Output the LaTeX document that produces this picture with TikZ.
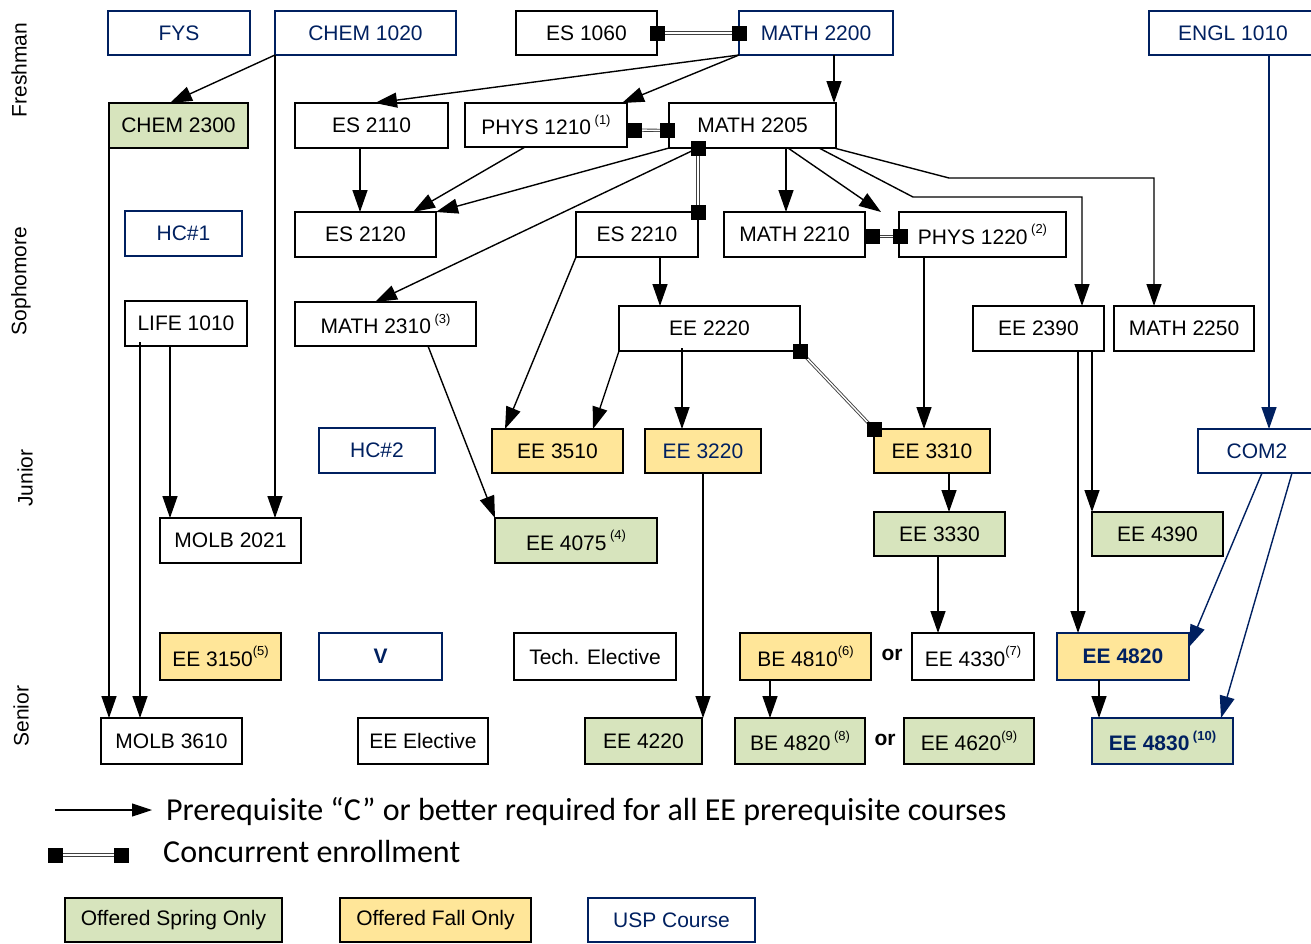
\documentclass[tikz,border=0pt]{standalone}
\usepackage{fontspec}
\setmainfont{Liberation Sans}
\newfontfamily\calib{Carlito}
\usetikzlibrary{arrows.meta}
\definecolor{navy}{RGB}{0,32,96}
\definecolor{springc}{HTML}{D7E4BD}
\definecolor{fallc}{HTML}{FFE699}
\newcommand\nt[1]{\,\raisebox{0.5em}{\fontsize{13}{13}\selectfont(#1)}}
\newcommand\ntt[1]{\raisebox{0.5em}{\fontsize{13}{13}\selectfont(#1)}}
\newcommand\bx[7][]{\node[bx,#1,anchor=north west,minimum width=#5pt,minimum height=#6pt] (#2) at (#3,#4) {#7};}
\begin{document}
\begin{tikzpicture}[x=1pt,y=-1pt,
 bx/.style={draw=black,line width=1.5pt,inner sep=0pt,outer sep=0pt,font=\fontsize{21}{25}\selectfont,text=black},
 usp/.style={draw=navy,line width=2.2pt,text=navy},
 spring/.style={fill=springc},
 fall/.style={fill=fallc},
 arr/.style={draw=black,line width=1.4pt,-{Triangle[length=22pt,width=15pt]}},
 barr/.style={arr,draw=navy},
 conc/.style={draw=black!75,line width=0.9pt,double=white,double distance=1.4pt},
 sq/.style={fill=black,minimum size=15pt,inner sep=0pt,outer sep=0pt},
 yr/.style={rotate=90,font=\fontsize{21}{25}\selectfont},
 orl/.style={font=\bfseries\fontsize{21}{25}\selectfont},
 leg/.style={font=\calib\fontsize{32}{36}\selectfont,inner sep=0pt}
]
\useasboundingbox (0,0) rectangle (1311,943);

% year labels
\node[yr] (yfr) at (19,70) {Freshman};
\node[yr] (yso) at (21,281) {Sophomore};
\node[yr] (yju) at (25,478) {Junior};
\node[yr] (yse) at (21,716) {Senior};

% row 1
\bx[usp]{fys}{108}{11}{142}{44}{FYS}
\bx[usp]{chem1020}{275}{11}{181}{44}{CHEM 1020}
\bx{es1060}{516}{11}{141}{44}{ES 1060}
\bx[usp]{math2200}{739}{11}{154}{44}{MATH 2200}
\bx[usp]{engl1010}{1149}{11}{168}{44}{ENGL 1010}
% row 2
\bx[spring]{chem2300}{109}{103}{139}{45}{CHEM 2300}
\bx{es2110}{295}{103}{153}{45}{ES 2110}
\bx{phys1210}{465}{103}{162}{44}{PHYS 1210\nt{1}}
\bx{math2205}{669}{103}{167}{45}{MATH 2205}
% row 3
\bx[usp]{hc1}{125}{211}{117}{45}{HC\#1}
\bx{es2120}{295}{212}{141}{45}{ES 2120}
\bx{es2210}{576}{212}{122}{45}{ES 2210}
\bx{math2210}{724}{212}{141}{45}{MATH 2210}
\bx{phys1220}{899}{212}{167}{45}{PHYS 1220\nt{2}}
% row 4
\bx{life1010}{125}{301}{122}{45}{LIFE 1010}
\bx{math2310}{295}{302}{181}{44}{MATH 2310\nt{3}}
\bx{ee2220}{619}{306}{181}{45}{EE 2220}
\bx{ee2390}{973}{306}{131}{45}{EE 2390}
\bx{math2250}{1114}{306}{140}{45}{MATH 2250}
% row 5
\bx[usp]{hc2}{319}{428}{116}{45}{HC\#2}
\bx[fall]{ee3510}{492}{429}{131}{44}{EE 3510}
\bx[fall,text=navy]{ee3220}{645}{429}{116}{44}{EE 3220}
\bx[fall]{ee3310}{874}{429}{116}{44}{EE 3310}
\bx[usp]{com2}{1198}{429}{118}{44}{COM2}
% row 6
\bx{molb2021}{160}{518}{141}{45}{MOLB 2021}
\bx[spring]{ee4075}{495}{518}{162}{45}{EE 4075\nt{4}}
\bx[spring]{ee3330}{874}{512}{131}{44}{EE 3330}
\bx[spring]{ee4390}{1092}{512}{131}{44}{EE 4390}
% row 7
\bx[fall]{ee3150}{160}{633}{121}{47}{EE 3150\ntt{5}}
\bx[usp]{v}{319}{633}{123}{47}{\bfseries V}
\bx{tech}{514}{633}{162}{47}{Tech. Elective}
\bx[fall]{be4810}{740}{633}{131}{47}{BE 4810\ntt{6}}
\bx{ee4330}{912}{633}{122}{47}{EE 4330\ntt{7}}
\bx[fall,usp]{ee4820}{1057}{633}{132}{47}{\bfseries EE 4820}
\node[orl] (or1) at (892,655) {or};
% row 8
\bx{molb3610}{101}{718}{141}{46}{MOLB 3610}
\bx{eeelec}{358}{718}{130}{46}{EE Elective}
\bx[spring]{ee4220}{585}{718}{117}{46}{EE 4220}
\bx[spring]{be4820}{735}{718}{130}{46}{BE 4820\nt{8}}
\bx[spring]{ee4620}{904}{718}{130}{46}{EE 4620\ntt{9}}
\bx[spring,usp]{ee4830}{1092}{718}{141}{46}{\bfseries EE 4830\nt{\bfseries 10}}
\node[orl] (or2) at (885,740) {or};

% prerequisite arrows
\draw[arr] (chem1020.south west) -- ([xshift=61pt]chem2300.north west);
\draw[arr] (chem1020.south west) -- (chem1020.south west |- molb2021.north);
\draw[arr] (chem2300.south west) -- (chem2300.south west |- molb3610.north);
\draw[arr] ([xshift=15pt,yshift=4pt]life1010.south west) -- ([xshift=15pt]life1010.south west |- molb3610.north);
\draw[arr] ([xshift=45pt]life1010.south west) -- ([xshift=45pt]life1010.south west |- molb2021.north);
\draw[arr] (math2200.south west) -- ([xshift=80pt]es2110.north west);
\draw[arr] (math2200.south west) -- ([xshift=157pt]phys1210.north west);
\draw[arr] ([xshift=95pt]math2200.south west) -- ([xshift=95pt]math2200.south west |- math2205.north);
\draw[arr] (math2205.south west) -- (es2120.north east);
\draw[arr] ([xshift=60pt]phys1210.south west) -- ([xshift=118pt]es2120.north west);
\draw[arr] ([xshift=65pt]es2110.south west) -- ([xshift=65pt]es2110.south west |- es2120.north);
\draw[arr] ([xshift=29pt]math2205.south west) -- ([xshift=80pt]math2310.north west);
\draw[arr] ([xshift=117pt]math2205.south west) -- ([xshift=117pt]math2205.south west |- math2210.north);
\draw[arr] ([xshift=119pt]math2205.south west) -- ([xshift=-18pt]phys1220.north west);
\draw[arr] ([xshift=150pt]math2205.south west) -- ++(94,49) -| ([xshift=109pt]ee2390.north west);
\draw[arr] ([xshift=165pt]math2205.south west) -- ++(115,30) -| ([xshift=40pt]math2250.north west);
\draw[arr] ([xshift=84pt]es2210.south west) -- ([xshift=84pt]es2210.south west |- ee2220.north);
\draw[arr] (es2210.south west) -- ([xshift=13pt]ee3510.north west);
\draw[arr] (ee2220.south west) -- ([xshift=101pt]ee3510.north west);
\draw[arr] ([xshift=63pt,yshift=3pt]ee2220.south west) -- ([xshift=63pt]ee2220.south west |- ee3220.north);
\draw[arr] ([xshift=25pt]phys1220.south west) -- ([xshift=25pt]phys1220.south west |- ee3310.north);
\draw[arr] ([xshift=75pt]ee3310.south west) -- ([xshift=75pt]ee3310.south west |- ee3330.north);
\draw[arr] ([xshift=64pt]ee3330.south west) -- ([xshift=64pt]ee3330.south west |- ee4330.north);
\draw[arr] ([xshift=105pt]ee2390.south west) -- ([xshift=105pt]ee2390.south west |- ee4820.north);
\draw[arr] ([xshift=119pt]ee2390.south west) -- ([xshift=119pt]ee2390.south west |- ee4390.north);
\draw[arr] ([xshift=133pt]math2310.south west) -- (ee4075.north west);
\draw[arr] ([xshift=58pt]ee3220.south west) -- ([xshift=58pt]ee3220.south west |- ee4220.north);
\draw[arr] ([xshift=30pt]be4810.south west) -- ([xshift=30pt]be4810.south west |- be4820.north);
\draw[arr] ([xshift=42pt]ee4820.south west) -- ([xshift=42pt]ee4820.south west |- ee4830.north);
% USP arrows
\draw[barr] ([xshift=120pt]engl1010.south west) -- ([xshift=120pt]engl1010.south west |- com2.north);
\draw[barr] ([xshift=64pt]com2.south west) -- ([yshift=-14pt]ee4820.north east);
\draw[barr] ([xshift=94pt]com2.south west) -- ([xshift=-12pt]ee4830.north east);

% concurrent enrollment
\draw[conc] (es1060.east) -- (math2200.west) node[sq,pos=0] (c1a) {} node[sq,pos=1] (c1b) {};
\draw[conc] ([xshift=7pt,yshift=-5pt]phys1210.east) -- ([xshift=-2pt,yshift=-5pt]math2205.west) node[sq,pos=0] (c2a) {} node[sq,pos=1] (c2b) {};
\draw[conc] ([xshift=29pt]math2205.south west) -- (es2210.north east) node[sq,pos=0] (c3a) {} node[sq,pos=1] (c3b) {};
\draw[conc] ([xshift=7pt,yshift=-2pt]math2210.east) -- ([xshift=1pt,yshift=-2pt]phys1220.west) node[sq,pos=0] (c4a) {} node[sq,pos=1] (c4b) {};
\draw[conc] (ee2220.south east) -- (ee3310.north west) node[sq,pos=0] (c5a) {} node[sq,pos=1] (c5b) {};

% legend
\coordinate (la1) at (55,810);
\coordinate (la2) at (152,810);
\draw[line width=1.1pt,-{Triangle[length=20pt,width=13pt]}] (la1) -- (la2);
\node[leg,anchor=base west] (lt1) at (166,820) {Prerequisite “C” or better required for all EE prerequisite courses};
\coordinate (lc1) at (55.5,855);
\coordinate (lc2) at (121.5,855);
\draw[conc] (lc1) -- (lc2) node[sq,pos=0] (lsa) {} node[sq,pos=1] (lsb) {};
\node[leg,anchor=base west] (lt2) at (163,862) {Concurrent enrollment};
\bx[spring]{lspring}{65}{898}{217}{44}{Offered Spring Only}
\bx[fall]{lfall}{340}{898}{191}{44}{Offered Fall Only}
\bx[usp]{lusp}{588}{898}{167}{44}{USP Course}
\end{tikzpicture}
\end{document}
